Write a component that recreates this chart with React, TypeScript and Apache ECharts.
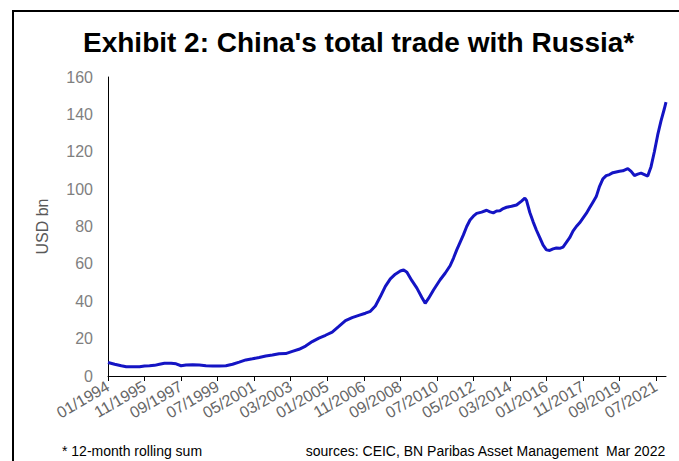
import React, { useEffect, useRef } from "react";
import * as echarts from "echarts";

const titleText = "Exhibit 2: China's total trade with Russia*";
const yAxisName = "USD bn";
const footnoteText = "* 12-month rolling sum";
const sourceText = "sources: CEIC, BN Paribas Asset Management  Mar 2022";

const tickLabels = [
  "01/1994", "11/1995", "09/1997", "07/1999", "05/2001", "03/2003", "01/2005", "11/2006",
  "09/2008", "07/2010", "05/2012", "03/2014", "01/2016", "11/2017", "09/2019", "07/2021",
];

const months = [
  "1994-01", "1994-05", "1994-09", "1994-12", "1995-04", "1995-08", "1995-11", "1996-02",
  "1996-05", "1996-08", "1996-11", "1997-03", "1997-06", "1997-09", "1997-12", "1998-04",
  "1998-08", "1998-12", "1999-04", "1999-08", "1999-12", "2000-04", "2000-08", "2000-12",
  "2001-04", "2001-08", "2001-12", "2002-04", "2002-08", "2002-12", "2003-04", "2003-08",
  "2003-12", "2004-04", "2004-08", "2004-12", "2005-04", "2005-08", "2005-12", "2006-04",
  "2006-08", "2006-12", "2007-03", "2007-06", "2007-09", "2007-12", "2008-03", "2008-06",
  "2008-09", "2008-11", "2009-01", "2009-04", "2009-07", "2009-10", "2009-12", "2010-02",
  "2010-05", "2010-09", "2010-12", "2011-03", "2011-05", "2011-07", "2011-09", "2011-11",
  "2012-01", "2012-03", "2012-05", "2012-07", "2012-10", "2013-01", "2013-03", "2013-05",
  "2013-07", "2013-09", "2013-11", "2014-01", "2014-04", "2014-07", "2014-10", "2014-12",
  "2015-01", "2015-03", "2015-05", "2015-07", "2015-09", "2015-11", "2016-01", "2016-03",
  "2016-05", "2016-07", "2016-09", "2016-11", "2017-01", "2017-03", "2017-05", "2017-07",
  "2017-09", "2017-11", "2018-01", "2018-03", "2018-05", "2018-07", "2018-09", "2018-11",
  "2019-01", "2019-03", "2019-05", "2019-07", "2019-09", "2019-11", "2020-01", "2020-02",
  "2020-04", "2020-06", "2020-08", "2020-10", "2020-12", "2021-02", "2021-04", "2021-06",
  "2021-08", "2021-10", "2021-12", "2022-01",
];

const values = [
  7.2, 6.3, 5.5, 5.0, 4.9, 5.0, 5.4, 5.5,
  5.7, 6.3, 6.8, 6.8, 6.5, 5.5, 5.9, 6.0,
  5.9, 5.5, 5.4, 5.4, 5.5, 6.3, 7.4, 8.6,
  9.2, 9.9, 10.7, 11.2, 11.9, 12.0, 13.2, 14.3,
  16.0, 18.4, 20.3, 21.8, 23.5, 26.5, 29.6, 31.2,
  32.4, 33.6, 34.6, 37.5, 42.5, 48.0, 52.0, 54.5,
  56.2, 56.8, 55.5, 51.0, 47.0, 42.0, 38.9, 41.5,
  46.0, 51.5, 55.0, 59.0, 63.0, 67.5, 71.5, 75.5,
  80.0, 83.5, 85.5, 87.0, 87.7, 88.7, 87.8, 87.3,
  88.3, 88.4, 89.6, 90.3, 90.8, 91.5, 93.6, 95.2,
  94.0, 87.5, 82.5, 78.0, 74.0, 70.0, 67.5, 67.2,
  68.0, 68.5, 68.3, 69.0, 71.5, 74.0, 77.5, 80.0,
  82.0, 84.5, 87.0, 90.0, 93.0, 96.0, 101.5, 105.5,
  107.2, 107.8, 108.8, 109.2, 109.6, 109.8, 110.6, 111.0,
  109.5, 107.3, 108.0, 108.6, 107.8, 107.0, 112.0, 120.0,
  129.0, 136.5, 143.0, 146.5,
];

const START = 1994 * 12;
const monthIndex = (s: string) => {
  const [y, m] = s.split("-").map(Number);
  return y * 12 + m - 1 - START;
};
const tickIndex = tickLabels.map((l) => {
  const [m, y] = l.split("/").map(Number);
  return y * 12 + m - 1 - START;
});
const seriesData = months.map((m, i) => [monthIndex(m), values[i]]);
const lastIndex = monthIndex(months[months.length - 1]);

export default function App() {
  const ref = useRef<HTMLDivElement>(null);
  useEffect(() => {
    if (!ref.current) return;
    const chart = echarts.init(ref.current, undefined, { renderer: "svg" });
    const font = "'Liberation Sans', Arial, sans-serif";
    chart.setOption({
      animation: false,
      backgroundColor: "#ffffff",
      textStyle: { fontFamily: font },
      title: {
        text: titleText,
        left: 83,
        top: 28,
        padding: 0,
        textStyle: { fontFamily: font, fontSize: 28, fontWeight: "bold", color: "#000000" },
      },
      grid: { left: 108, right: 13, top: 77, bottom: 85, containLabel: false },
      xAxis: {
        type: "value",
        min: 0,
        max: lastIndex,
        axisLine: { show: true, lineStyle: { color: "#000000", width: 1 } },
        axisTick: {
          show: true,
          customValues: tickIndex,
          length: 5,
          lineStyle: { color: "#000000" },
        },
        axisLabel: {
          customValues: tickIndex,
          rotate: 30,
          fontSize: 16,
          color: "#666666",
          margin: 9,
          formatter: (v: number) => {
            const i = tickIndex.indexOf(Math.round(v));
            return i >= 0 ? tickLabels[i] : "";
          },
        },
        splitLine: { show: false },
      },
      yAxis: {
        type: "value",
        min: 0,
        max: 160,
        interval: 20,
        name: yAxisName,
        nameLocation: "middle",
        nameGap: 58,
        nameRotate: 90,
        nameTextStyle: { fontSize: 16, color: "#595959", fontFamily: font },
        axisLine: { show: true, lineStyle: { color: "#000000", width: 1 } },
        axisTick: { show: false },
        axisLabel: { fontSize: 16, color: "#7f7f7f", margin: 15 },
        splitLine: { show: false },
      },
      series: [
        {
          type: "line",
          data: seriesData,
          symbol: "none",
          smooth: false,
          lineStyle: { color: "#1414c4", width: 3 },
        },
      ],
      graphic: [
        {
          type: "rect",
          shape: { x: 13, y: 11, width: 720, height: 520 },
          style: { fill: "none", stroke: "#000000", lineWidth: 2 },
          silent: true,
        },
        {
          type: "text",
          left: 62,
          top: 444,
          style: { text: footnoteText, fontSize: 14, fill: "#000000", fontFamily: font },
        },
        {
          type: "text",
          right: 13,
          top: 444,
          style: { text: sourceText, fontSize: 14, fill: "#000000", fontFamily: font },
        },
      ],
    });
    return () => chart.dispose();
  }, []);
  return (
    <div
      ref={ref}
      style={{ position: "fixed", left: 0, top: 0, width: 679, height: 461 }}
    />
  );
}
